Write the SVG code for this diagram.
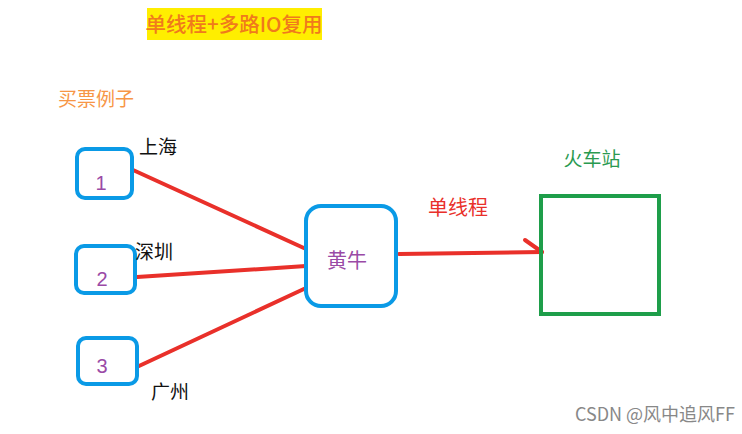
<svg xmlns="http://www.w3.org/2000/svg" width="742" height="434" viewBox="0 0 742 434">
<style>
.box{fill:#fff;stroke:#0a9ae6;stroke-width:4}
.num{font-family:"Liberation Sans","Noto Sans CJK SC",sans-serif;font-size:20px;fill:#9a4aa6;text-anchor:middle}
.city{font-family:"Noto Sans CJK SC",sans-serif;font-size:19px;fill:#111}
.conn{stroke:#e9302a;stroke-width:4;fill:none;stroke-linecap:round}
</style>
<rect width="742" height="434" fill="#fff"/>
<rect x="147" y="8" width="175" height="32" fill="#ffee00"/>
<text x="234" y="32" text-anchor="middle" font-family="Noto Sans CJK SC, sans-serif" font-size="20.5" font-weight="500" fill="#f07a1c">单线程+多路IO复用</text>
<text x="58" y="106" font-family="Noto Sans CJK SC, sans-serif" font-size="19" fill="#f79646">买票例子</text>
<g id="connectors">
<line class="conn" x1="133" y1="170" x2="306" y2="249"/>
<line class="conn" x1="137" y1="277" x2="306" y2="266"/>
<line class="conn" x1="139" y1="366" x2="306" y2="288"/>
<line class="conn" x1="399" y1="254" x2="542" y2="252"/>
<polyline class="conn" points="525,240 542,252"/>
</g>
<g id="n1"><rect class="box" x="77" y="149" width="55" height="49" rx="8"/><text class="num" x="101" y="190">1</text></g>
<text class="city" x="139" y="154">上海</text>
<g id="n2"><rect class="box" x="76" y="246" width="59" height="47" rx="8"/><text class="num" x="102" y="286">2</text></g>
<text class="city" x="135" y="259">深圳</text>
<g id="n3"><rect class="box" x="78" y="338" width="59" height="46" rx="8"/><text class="num" x="102" y="373">3</text></g>
<text class="city" x="151" y="399">广州</text>
<g id="hn"><rect class="box" x="306" y="206" width="90" height="100" rx="15"/><text x="347" y="268" text-anchor="middle" font-family="Noto Sans CJK SC, sans-serif" font-size="20" fill="#9a4aa6">黄牛</text></g>
<text x="458" y="215" text-anchor="middle" font-family="Noto Sans CJK SC, sans-serif" font-size="20" fill="#e9302a">单线程</text>
<g id="station"><rect x="541" y="196" width="118" height="118" fill="none" stroke="#1e9e4a" stroke-width="4"/></g>
<text x="592" y="166" text-anchor="middle" font-family="Noto Sans CJK SC, sans-serif" font-size="19" fill="#2a9a50">火车站</text>
<text x="735" y="421" text-anchor="end" font-family="Noto Sans CJK SC, sans-serif" font-size="18" fill="#888">CSDN @风中追风FF</text>
</svg>
